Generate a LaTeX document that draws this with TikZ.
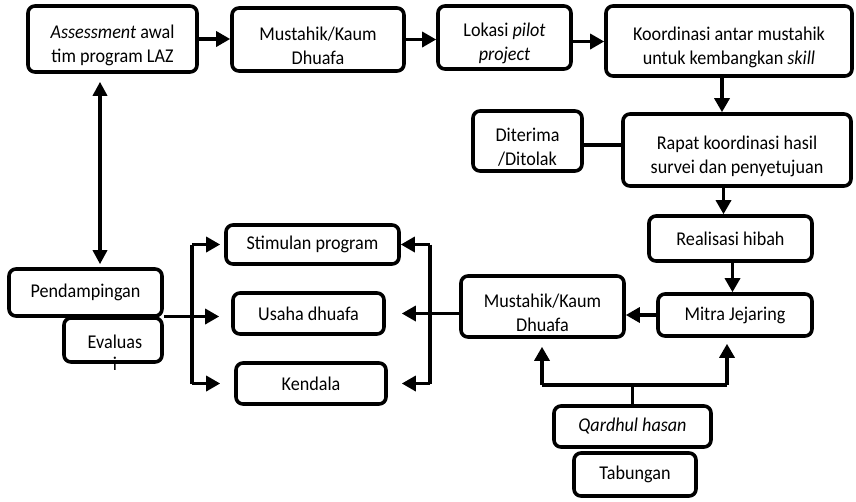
\documentclass[tikz,border=0pt]{standalone}
\usepackage{fontspec}
\setmainfont{Carlito}[FakeStretch=0.93]
\usetikzlibrary{arrows.meta}
\newcommand\upstrut{\rule{0pt}{26pt}}
\begin{document}
\begin{tikzpicture}[x=1pt,y=-1pt,
 box/.style={draw, line width=3.6pt, rounded corners=7pt, align=center, inner sep=2pt, font=\fontsize{19.5}{24}\selectfont},
 txt/.style={align=center, inner sep=0pt, font=\fontsize{19.5}{22}\selectfont},
 ln/.style={line width=3.3pt},
 arr/.style={ln, -{Triangle[length=14pt,width=15pt]}},
 darr/.style={ln, {Triangle[length=14pt,width=14pt]}-{Triangle[length=14pt,width=14pt]}}]
\useasboundingbox (0,0) rectangle (856,501);
% top row
\node[box, minimum width=169pt, minimum height=66pt] (assess) at (112.5,39) {\upstrut\textit{Assessment} awal\\tim program LAZ};
\node[box, minimum width=172pt, minimum height=63pt] (must1) at (318,39.5) {\upstrut Mustahik/Kaum\\Dhuafa};
\node[box, minimum width=133pt, minimum height=63pt] (lokasi) at (504.5,37.5) {\upstrut Lokasi \textit{pilot}\\\textit{project}};
\node[box, minimum width=246pt, minimum height=70pt] (koord) at (729,41) {\upstrut Koordinasi antar mustahik\\untuk kembangkan \textit{skill}};
% right column
\node[box, minimum width=228pt, minimum height=72pt] (rapat) at (737,150) {\upstrut Rapat koordinasi hasil\\survei dan penyetujuan};
\node[box, minimum width=109pt, minimum height=60pt] (diter) at (527.5,141) {\upstrut Diterima\\/Ditolak};
\node[box, minimum width=163pt, minimum height=45pt] (real) at (730.5,238.5) {Realisasi hibah};
\node[box, minimum width=154pt, minimum height=42pt] (mitra) at (735,315) {Mitra Jejaring};
\node[box, minimum width=163pt, minimum height=61pt] (must2) at (542.5,306.5) {\upstrut Mustahik/Kaum\\Dhuafa};
\node[box, minimum width=157pt, minimum height=41pt] (qard) at (632.5,426.5) {\textit{Qardhul hasan}};
\node[box, minimum width=122pt, minimum height=43pt] (tab) at (635,474.5) {Tabungan};
% left part
\node[box, minimum width=173pt, minimum height=39pt] (stim) at (312.5,244.5) {Stimulan program};
\node[box, minimum width=153pt, minimum height=47pt] (pend) at (85.5,292.5) {Pendampingan};
\node[box, minimum width=98pt, minimum height=44pt] (eval) at (113,340) {};
\node[txt] (evalt) at (115,353) {Evaluas\\i};
\node[box, minimum width=151pt, minimum height=41pt] (usaha) at (308.5,313.5) {Usaha dhuafa};
\node[box, minimum width=150pt, minimum height=41pt] (kend) at (311,383.5) {Kendala};
% connectors top
\draw[arr] (assess.east) -- (must1.west |- assess.east);
\draw[arr] (must1.east) -- (lokasi.west |- must1.east);
\draw[arr] ([yshift=-4pt]lokasi.east) -- ([yshift=-4pt]lokasi.east -| koord.west);
\draw[arr] ([xshift=-7pt]koord.south) -- ([xshift=-7pt]koord.south |- rapat.north);
\draw[ln] ([yshift=-4pt]diter.east) -- ([yshift=-4pt]diter.east -| rapat.west);
\draw[arr] ([xshift=-7pt]real.north |- rapat.south) -- ([xshift=-7pt]real.north);
\draw[arr] ([xshift=2pt]real.south) -- ([xshift=2pt]real.south |- mitra.north);
\draw[arr] (mitra.west) -- (mitra.west -| must2.east);
\draw[darr, shorten <=8pt, shorten >=3pt] ([xshift=-12.5pt]assess.south) -- ([xshift=-12.5pt]assess.south |- pend.north);
% brackets
\coordinate (lb) at (192,0);
\coordinate (rb) at (430,0);
\draw[ln] (stim.west -| lb) -- (kend.west -| lb);
\draw[arr, shorten >=4pt] (stim.west -| lb) -- (stim.west);
\draw[arr, shorten >=14pt] (kend.west -| lb) -- (kend.west);
\draw[arr, shorten >=12pt] ([yshift=-3pt]usaha.west -| eval.east) -- ([yshift=-3pt]usaha.west);
\draw[ln] (stim.east -| rb) -- (kend.east -| rb);
\draw[arr] (stim.east -| rb) -- (stim.east);
\draw[arr, shorten >=14pt] (kend.east -| rb) -- (kend.east);
\draw[arr, shorten >=16pt] (usaha.east -| must2.west) -- (usaha.east);
% tree
\coordinate (qy) at (0,385);
\coordinate (tl) at (542,385);
\coordinate (tr) at (727,385);
\draw[ln] (qard.north) -- (qard.north |- qy);
\draw[ln] (tl) -- (tr);
\draw[arr, shorten >=8pt] (tl) -- (tl |- must2.south);
\draw[arr, shorten >=6pt] (tr) -- (tr |- mitra.south);
\end{tikzpicture}
\end{document}
